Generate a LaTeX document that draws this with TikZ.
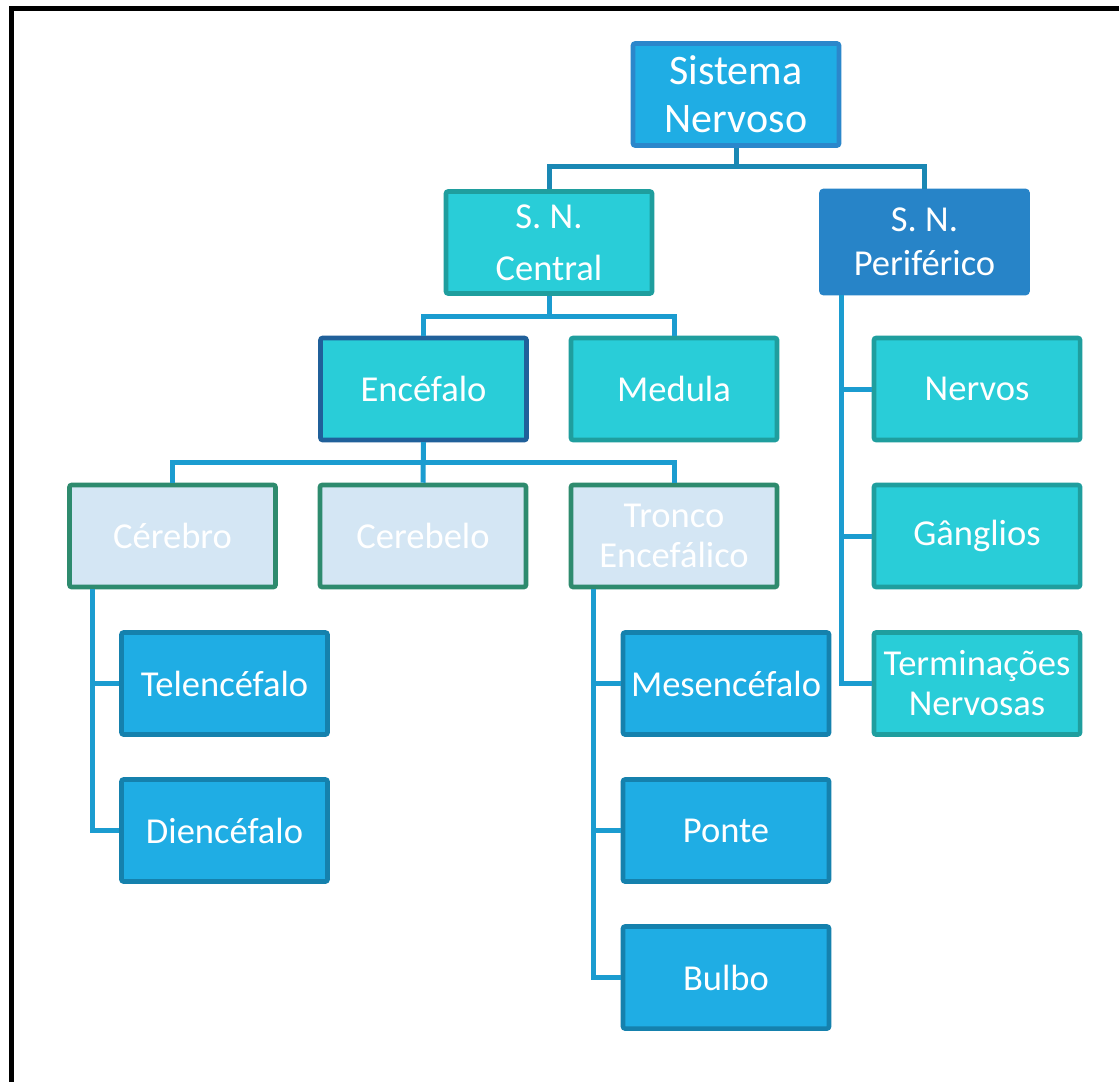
\documentclass[tikz,border=0pt]{standalone}
\usepackage{fontspec}
\setmainfont{Carlito}
\definecolor{bluefill}{HTML}{1FADE4}
\definecolor{blueline}{HTML}{1581AD}
\definecolor{topline}{HTML}{2B87CB}
\definecolor{cyanfill}{HTML}{29CDD8}
\definecolor{tealline}{HTML}{1F9E9E}
\definecolor{encline}{HTML}{20609A}
\definecolor{perfill}{HTML}{2784C8}
\definecolor{lightfill}{HTML}{D4E6F4}
\definecolor{greenline}{HTML}{2E8B6E}
\definecolor{connc}{HTML}{1B9CD0}
\definecolor{conntop}{HTML}{1A88B4}
\tikzset{
  box/.style={rectangle, rounded corners=1.5pt, line width=3.4pt, minimum width=154.5pt, minimum height=76.5pt,
    inner sep=1pt, text=white, align=center, font=\fontsize{27.4}{30}\selectfont},
  bluebox/.style={box, fill=bluefill, draw=blueline},
  cyanbox/.style={box, fill=cyanfill, draw=tealline},
  lightbox/.style={box, fill=lightfill, draw=greenline},
  conn/.style={draw=connc, line width=3.75pt},
}
\begin{document}
\begin{tikzpicture}[x=0.75pt, y=-0.75pt]
\useasboundingbox (0,0) rectangle (1119,1081);
\fill[white] (0,0) rectangle (1119,1081);
\begin{scope}
\clip (0,0) rectangle (1119,1081);
\draw[line width=3.75pt, black] (11,9) rectangle (1160,1120);
\end{scope}

\node[box, fill=bluefill, draw=topline, font=\fontsize{31.5}{36}\selectfont] (sn) at (736,94.5) {Sistema\\Nervoso};
\node[cyanbox, font=\fontsize{27.4}{39}\selectfont] (snc) at (549,242.5) {S. N.\\Central};
\node[box, fill=perfill, draw=perfill, font=\fontsize{27.4}{33}\selectfont] (snp) at (924.5,242) {S. N.\\Periférico};
\node[cyanbox, draw=encline] (enc) at (423.5,389) {Encéfalo};
\node[cyanbox] (med) at (674,389) {Medula};
\node[lightbox] (cer) at (172.5,536) {Cérebro};
\node[lightbox] (cbl) at (423,536) {Cerebelo};
\node[lightbox] (tro) at (674,536) {Tronco\\Encefálico};
\node[cyanbox] (ner) at (977,389) {Nervos};
\node[cyanbox] (gan) at (977,536) {Gânglios};
\node[cyanbox] (ter) at (977,683.5) {Terminações\\Nervosas};
\node[bluebox] (tel) at (224.5,683.5) {Telencéfalo};
\node[bluebox] (die) at (224.5,830.5) {Diencéfalo};
\node[bluebox] (mes) at (726,683.5) {Mesencéfalo};
\node[bluebox] (pon) at (726,830.5) {Ponte};
\node[bluebox] (bul) at (726,977.5) {Bulbo};

\begin{scope}[on background layer/.style={}]
\end{scope}

\draw[conn, draw=conntop] (sn.south) -- ++(0,19) -| (snc.north);
\draw[conn, draw=conntop] (sn.south) -- ++(0,19) -| (snp.north);
\draw[conn] (snc.south) -- ++(0,21) -| (enc.north);
\draw[conn] (snc.south) -- ++(0,21) -| (med.north);
\draw[conn] (enc.south) -- ++(0,20) -| (cer.north);
\draw[conn] (enc.south) -- (cbl.north);
\draw[conn] (enc.south) -- ++(0,20) -| (tro.north);
\draw[conn] ([xshift=16.5pt]snp.south west) |- (ner.west);
\draw[conn] ([xshift=16.5pt]snp.south west) |- (gan.west);
\draw[conn] ([xshift=16.5pt]snp.south west) |- (ter.west);
\draw[conn] ([xshift=18.75pt]cer.south west) |- (tel.west);
\draw[conn] ([xshift=18.75pt]cer.south west) |- (die.west);
\draw[conn] ([xshift=18.75pt]tro.south west) |- (mes.west);
\draw[conn] ([xshift=18.75pt]tro.south west) |- (pon.west);
\draw[conn] ([xshift=18.75pt]tro.south west) |- (bul.west);
\end{tikzpicture}
\end{document}
